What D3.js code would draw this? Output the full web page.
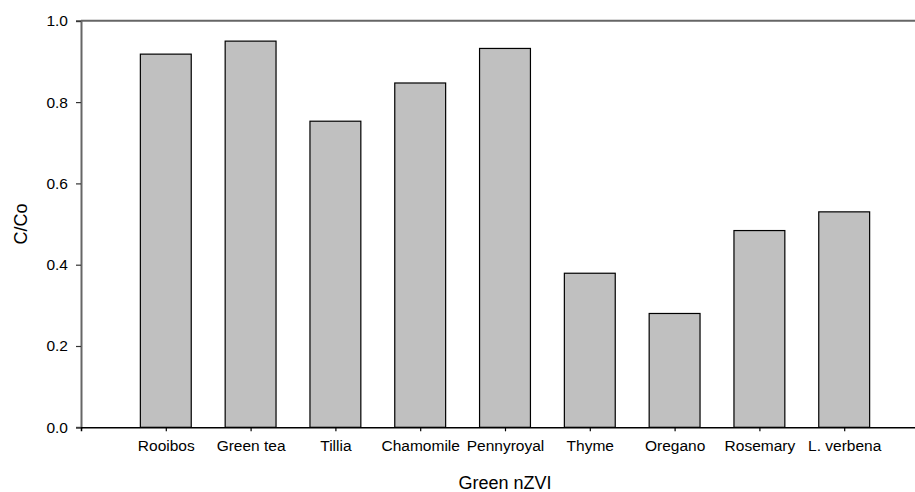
<!DOCTYPE html>
<html>
<head>
<meta charset="utf-8">
<script src="https://cdn.jsdelivr.net/npm/d3@7/dist/d3.min.js"></script>
<style>
  html, body { margin: 0; padding: 0; background: #fff; }
  svg { display: block; font-family: "Liberation Sans", Arial, sans-serif; }
</style>
</head>
<body>
<svg id="chart" width="915" height="492"></svg>
<script>
// Extracts used for green nZVI synthesis and remaining concentration ratio
const categories = ["Rooibos", "Green tea", "Tillia", "Chamomile", "Pennyroyal", "Thyme", "Oregano", "Rosemary", "L. verbena"];
const ratios = [0.918, 0.950, 0.753, 0.847, 0.932, 0.379, 0.280, 0.484, 0.530];
const yTicks = [0.0, 0.2, 0.4, 0.6, 0.8, 1.0];

const svg = d3.select("#chart");

const plotLeft = 81, plotRight = 929, plotTop = 20.8, plotBottom = 427.3;

// Categories sit at 1..9 on a 0..10 axis
const x = d3.scaleLinear().domain([0, 10]).range([plotLeft, plotRight]);
const y = d3.scaleLinear().domain([0, 1]).range([plotBottom, plotTop]);
const barW = x(0.6) - x(0);

// Bars
svg.append("g")
  .selectAll("rect")
  .data(categories)
  .join("rect")
  .attr("x", (d, i) => x(i + 1) - barW / 2)
  .attr("y", (d, i) => y(ratios[i]))
  .attr("width", barW)
  .attr("height", (d, i) => y(0) - y(ratios[i]))
  .attr("fill", "#c0c0c0")
  .attr("stroke", "#000")
  .attr("stroke-width", 1.2);

// Top frame line
svg.append("line")
  .attr("x1", plotLeft).attr("x2", plotRight)
  .attr("y1", plotTop).attr("y2", plotTop)
  .attr("stroke", "#666").attr("stroke-width", 2);

// Left axis
const yAxis = svg.append("g")
  .attr("transform", `translate(${plotLeft},0)`)
  .call(d3.axisLeft(y).tickValues(yTicks).tickFormat(d3.format(".1f")).tickSize(5).tickPadding(8));
yAxis.select(".domain").attr("stroke", "#666").attr("stroke-width", 2);
yAxis.selectAll(".tick line").attr("stroke", "#333").attr("stroke-width", 1.2);
yAxis.selectAll("text").attr("font-size", 15.5).attr("fill", "#000")
  .attr("font-family", "Liberation Sans, Arial, sans-serif");

// Bottom axis
const xAxis = svg.append("g")
  .attr("transform", `translate(0,${plotBottom})`)
  .call(d3.axisBottom(x).tickValues(d3.range(1, categories.length + 1))
    .tickFormat(d => categories[d - 1]).tickSizeOuter(0).tickSize(4).tickPadding(9));
xAxis.select(".domain").attr("stroke", "#000").attr("stroke-width", 1.5);
xAxis.selectAll(".tick line").attr("stroke", "#000").attr("stroke-width", 1.2);
xAxis.selectAll("text").attr("font-size", 15.5).attr("fill", "#000")
  .attr("font-family", "Liberation Sans, Arial, sans-serif");

// Axis titles
svg.append("text")
  .attr("x", (plotLeft + plotRight) / 2)
  .attr("y", 489)
  .attr("text-anchor", "middle")
  .attr("font-size", 18)
  .text("Green nZVI");

svg.append("text")
  .attr("transform", `translate(27,${(plotTop + plotBottom) / 2}) rotate(-90)`)
  .attr("text-anchor", "middle")
  .attr("font-size", 18)
  .text("C/Co");
</script>
</body>
</html>
